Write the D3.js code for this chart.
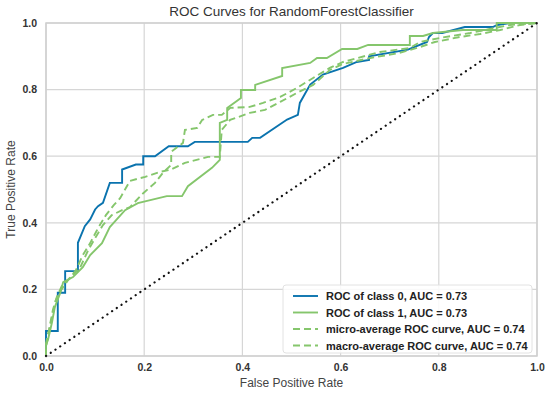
<!DOCTYPE html>
<html>
<head>
<meta charset="utf-8">
<script src="https://cdn.jsdelivr.net/npm/d3@7"></script>
<style>
  body { margin: 0; background: #fff; }
  svg text { font-family: "Liberation Sans", Arial, sans-serif; }
</style>
</head>
<body>
<div id="chart"></div>
<script>
// ROC curve points, as [fpr, tpr]
const class0 = [[0,0],[0,0.075],[0.024,0.075],[0.024,0.19],[0.039,0.19],[0.039,0.255],[0.065,0.255],[0.065,0.34],
  [0.079,0.39],[0.09,0.41],[0.1,0.44],[0.106,0.45],[0.116,0.46],[0.13,0.52],[0.155,0.52],[0.155,0.56],
  [0.183,0.575],[0.198,0.575],[0.198,0.6],[0.222,0.6],[0.25,0.63],[0.289,0.63],[0.303,0.643],[0.411,0.643],
  [0.42,0.655],[0.436,0.655],[0.491,0.71],[0.513,0.724],[0.517,0.76],[0.538,0.815],[0.564,0.845],[0.605,0.865],
  [0.633,0.883],[0.658,0.889],[0.658,0.9],[0.737,0.92],[0.776,0.943],[0.78,0.958],[0.788,0.97],[0.807,0.97],
  [0.853,0.988],[0.91,0.988],[0.919,0.994],[0.945,1],[1,1]];

const class1 = [[0,0],[0,0.033],[0.004,0.048],[0.012,0.1],[0.018,0.147],[0.029,0.189],[0.035,0.222],[0.055,0.237],
  [0.075,0.267],[0.09,0.303],[0.114,0.339],[0.13,0.387],[0.161,0.438],[0.187,0.459],[0.246,0.48],[0.277,0.48],
  [0.289,0.51],[0.338,0.565],[0.354,0.589],[0.354,0.7],[0.369,0.709],[0.369,0.745],[0.397,0.775],[0.397,0.799],
  [0.426,0.799],[0.426,0.814],[0.481,0.841],[0.481,0.865],[0.538,0.88],[0.552,0.895],[0.572,0.895],[0.603,0.922],
  [0.634,0.922],[0.656,0.934],[0.741,0.934],[0.741,0.961],[0.768,0.961],[0.788,0.97],[0.849,0.979],[0.918,0.979],
  [0.918,1],[1,1]];

const micro = [[0,0],[0,0.039],[0.006,0.078],[0.014,0.138],[0.022,0.177],[0.033,0.213],[0.049,0.234],[0.069,0.264],
  [0.086,0.318],[0.1,0.354],[0.116,0.393],[0.134,0.423],[0.155,0.438],[0.171,0.447],[0.198,0.489],[0.222,0.52],
  [0.238,0.55],[0.255,0.574],[0.255,0.613],[0.279,0.64],[0.283,0.679],[0.308,0.685],[0.318,0.709],[0.34,0.724],
  [0.358,0.724],[0.375,0.745],[0.415,0.748],[0.442,0.76],[0.477,0.778],[0.511,0.805],[0.544,0.835],[0.578,0.865],
  [0.605,0.883],[0.68,0.913],[0.741,0.925],[0.762,0.943],[0.802,0.955],[0.864,0.97],[0.914,0.985],[0.945,0.994],[1,1]];

const macro = [[0,0],[0,0.024],[0.004,0.063],[0.012,0.114],[0.02,0.168],[0.031,0.198],[0.045,0.228],[0.061,0.258],
  [0.075,0.303],[0.09,0.339],[0.106,0.384],[0.122,0.423],[0.138,0.453],[0.151,0.474],[0.171,0.526],[0.202,0.538],
  [0.232,0.553],[0.253,0.559],[0.283,0.58],[0.33,0.598],[0.354,0.598],[0.358,0.679],[0.375,0.709],[0.415,0.73],
  [0.446,0.739],[0.477,0.763],[0.511,0.79],[0.544,0.814],[0.578,0.859],[0.605,0.877],[0.66,0.895],[0.72,0.91],
  [0.762,0.928],[0.792,0.943],[0.843,0.958],[0.884,0.967],[0.925,0.979],[0.965,0.994],[1,1]];

const seriesLabels = ["ROC of class 0, AUC = 0.73", "ROC of class 1, AUC = 0.73",
  "micro-average ROC curve, AUC = 0.74", "macro-average ROC curve, AUC = 0.74"];
const ticks = [0, 0.2, 0.4, 0.6, 0.8, 1.0];

const width = 550, height = 395;
const margin = {top: 23, right: 13, bottom: 39, left: 46};
const blue = "#0a73ae", green = "#85c66c";

const series = [
  {data: class0, color: blue, dash: null},
  {data: class1, color: green, dash: null},
  {data: micro, color: green, dash: "7,4"},
  {data: macro, color: green, dash: "7,4"}
];

const svg = d3.select("#chart").append("svg")
  .attr("width", width).attr("height", height);

const x = d3.scaleLinear().domain([0, 1]).range([margin.left, width - margin.right]);
const y = d3.scaleLinear().domain([0, 1]).range([height - margin.bottom, margin.top]);

// grid
svg.append("g").selectAll("line.v").data(ticks).enter().append("line")
  .attr("x1", d => x(d)).attr("x2", d => x(d))
  .attr("y1", y(0)).attr("y2", y(1))
  .attr("stroke", "#d6d6d6").attr("stroke-width", 1.2);
svg.append("g").selectAll("line.h").data(ticks).enter().append("line")
  .attr("x1", x(0)).attr("x2", x(1))
  .attr("y1", d => y(d)).attr("y2", d => y(d))
  .attr("stroke", "#d6d6d6").attr("stroke-width", 1.2);
svg.append("rect")
  .attr("x", x(0)).attr("y", y(1))
  .attr("width", x(1) - x(0)).attr("height", y(0) - y(1))
  .attr("fill", "none").attr("stroke", "#cfcfcf").attr("stroke-width", 1.5);

// axes (labels only, seaborn style)
const xAxis = svg.append("g").attr("transform", `translate(0,${y(0)})`)
  .call(d3.axisBottom(x).tickValues(ticks).tickFormat(d3.format(".1f")).tickSize(0).tickPadding(8));
const yAxis = svg.append("g").attr("transform", `translate(${x(0)},0)`)
  .call(d3.axisLeft(y).tickValues(ticks).tickFormat(d3.format(".1f")).tickSize(0).tickPadding(9));
[xAxis, yAxis].forEach(a => {
  a.select(".domain").remove();
  a.selectAll("text").attr("font-size", 10.5).attr("font-weight", "bold")
    .attr("fill", "#333").style("font-family", "'Liberation Sans', Arial, sans-serif");
});

// curves
const line = d3.line().x(d => x(d[0])).y(d => y(d[1]));
series.forEach(s => {
  svg.append("path").datum(s.data)
    .attr("d", line)
    .attr("fill", "none")
    .attr("stroke", s.color)
    .attr("stroke-width", 1.9)
    .attr("stroke-dasharray", s.dash);
});

// chance line
svg.append("path").datum([[0, 0], [1, 1]])
  .attr("d", line)
  .attr("stroke", "#111").attr("stroke-width", 2.2)
  .attr("stroke-linecap", "round").attr("stroke-dasharray", "0.1,5.6");

// titles
svg.append("text").attr("x", (x(0) + x(1)) / 2).attr("y", 16)
  .attr("text-anchor", "middle").attr("font-size", 13.5).attr("fill", "#333")
  .text("ROC Curves for RandomForestClassifier");
svg.append("text").attr("x", (x(0) + x(1)) / 2).attr("y", 387)
  .attr("text-anchor", "middle").attr("font-size", 12).attr("fill", "#444")
  .text("False Positive Rate");
svg.append("text").attr("transform", `translate(15,${(y(0) + y(1)) / 2}) rotate(-90)`)
  .attr("text-anchor", "middle").attr("font-size", 12).attr("fill", "#444")
  .text("True Positive Rate");

// legend
const legend = svg.append("g").attr("transform", "translate(283,285)");
legend.append("rect").attr("width", 249).attr("height", 68).attr("rx", 3)
  .attr("fill", "#fff").attr("fill-opacity", 0.85)
  .attr("stroke", "#e2e2e2");
series.forEach((s, i) => {
  const gy = 11 + i * 16.5;
  legend.append("line").attr("x1", 10).attr("x2", 35).attr("y1", gy).attr("y2", gy)
    .attr("stroke", s.color).attr("stroke-width", 1.9).attr("stroke-dasharray", s.dash);
  legend.append("text").attr("x", 43).attr("y", gy + 4)
    .attr("font-size", 11).attr("font-weight", "bold").attr("fill", "#222")
    .text(seriesLabels[i]);
});
</script>
</body>
</html>
